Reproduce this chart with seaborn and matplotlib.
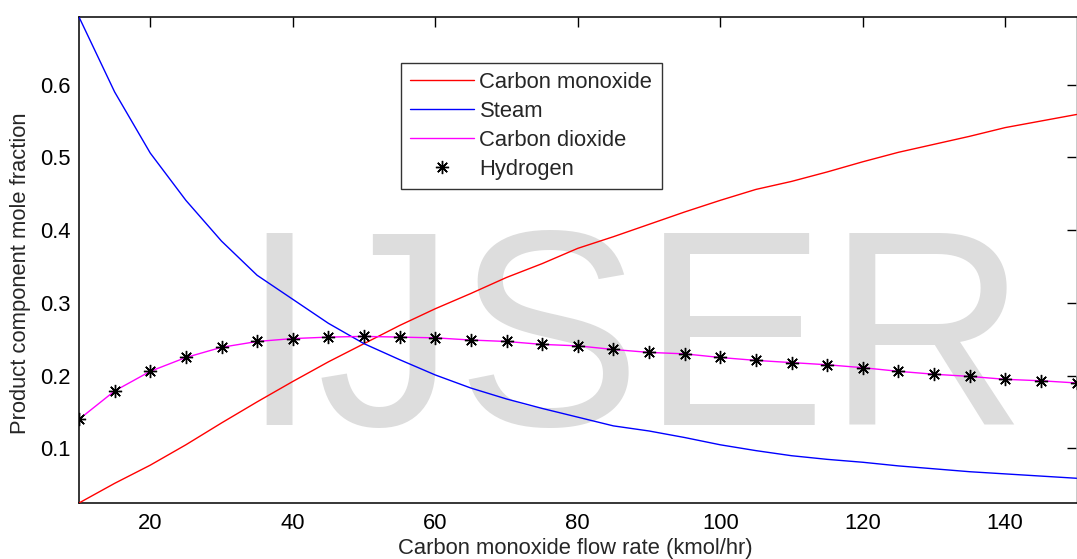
import numpy as np
import pandas as pd
import matplotlib
matplotlib.use("Agg")
import matplotlib.pyplot as plt
import seaborn as sns

flow = [10, 15, 20, 25, 30, 35, 40, 45, 50, 55, 60, 65, 70, 75, 80,
        85, 90, 95, 100, 105, 110, 115, 120, 125, 130, 135, 140, 145, 150]
carbon_monoxide = [0.025, 0.052, 0.077, 0.105, 0.135, 0.164, 0.192, 0.219, 0.244, 0.269,
                   0.292, 0.313, 0.335, 0.354, 0.375, 0.391, 0.408, 0.425, 0.441, 0.456,
                   0.467, 0.480, 0.494, 0.507, 0.518, 0.529, 0.541, 0.550, 0.559]
steam = [0.693, 0.590, 0.506, 0.441, 0.385, 0.338, 0.305, 0.272, 0.244, 0.222,
         0.201, 0.183, 0.168, 0.155, 0.143, 0.131, 0.124, 0.115, 0.105, 0.097,
         0.090, 0.085, 0.081, 0.076, 0.072, 0.068, 0.065, 0.062, 0.059]
carbon_dioxide = [0.140, 0.179, 0.206, 0.225, 0.239, 0.247, 0.251, 0.253, 0.254, 0.253,
                  0.252, 0.249, 0.247, 0.243, 0.241, 0.236, 0.232, 0.230, 0.225, 0.221,
                  0.218, 0.215, 0.211, 0.206, 0.202, 0.199, 0.195, 0.193, 0.190]
hydrogen = list(carbon_dioxide)

series_names = ["Carbon monoxide", "Steam", "Carbon dioxide", "Hydrogen"]
x_ticks = [20, 40, 60, 80, 100, 120, 140]
y_ticks = [0.1, 0.2, 0.3, 0.4, 0.5, 0.6]

df = pd.DataFrame({"flow": flow, "co": carbon_monoxide, "steam": steam,
                   "co2": carbon_dioxide, "h2": hydrogen})

FS = 15.8
sns.set_style("white")
plt.rcParams["font.family"] = ["Liberation Sans", "DejaVu Sans"]
plt.rcParams["font.size"] = FS

fig = plt.figure(figsize=(10.77, 5.59), dpi=100)
W, H = 1077, 559
ax = fig.add_axes([79 / W, 1 - 503 / H, (1076.5 - 79) / W, (503 - 17) / H])

# watermark
ax.text(240 / W, 1 - 425 / H, "IJSER", transform=fig.transFigure, fontsize=200,
        color="#dddddd", ha="left", va="baseline", zorder=0.5,
        family=["Liberation Sans", "DejaVu Sans"])

sns.lineplot(data=df, x="flow", y="co", ax=ax, color="#ff0000", lw=1.0,
             label=series_names[0], zorder=3)
sns.lineplot(data=df, x="flow", y="steam", ax=ax, color="#0000ff", lw=1.0,
             label=series_names[1], zorder=3)
sns.lineplot(data=df, x="flow", y="co2", ax=ax, color="#ff00ff", lw=1.0,
             label=series_names[2], zorder=3)
sns.lineplot(data=df, x="flow", y="h2", ax=ax, color="black", linestyle="none",
             marker=(8, 2, 0), markersize=9.5, markeredgewidth=1.0,
             markeredgecolor="black", label=series_names[3], zorder=4)

ax.set_xlim(10, 150)
ax.set_ylim(0.025, 0.693)
ax.set_xticks(x_ticks)
ax.set_yticks(y_ticks)
ax.set_xticklabels([str(t) for t in x_ticks])
ax.set_yticklabels([f"{t:g}" for t in y_ticks])
ax.tick_params(direction="in", length=7.5, width=1.0, top=True, right=True,
               labelsize=FS, colors="black")
ax.tick_params(axis="x", pad=7.5)
ax.tick_params(axis="y", pad=6)
for s in ax.spines.values():
    s.set_visible(True)
    s.set_color("black")
    s.set_linewidth(1.1)
ax.spines["right"].set_color("#bbbbbb")

ax.set_xlabel("Carbon monoxide flow rate (kmol/hr)", fontsize=FS)
ax.set_ylabel("Product component mole fraction", fontsize=FS)
ax.xaxis.set_label_coords(0.4975, -0.073)
ax.yaxis.set_label_coords(-0.0485, 0.473)

leg = ax.legend(loc="upper left", bbox_to_anchor=(400.7 / W, 1 - 62.7 / H),
                bbox_transform=fig.transFigure, borderaxespad=0, frameon=True,
                fancybox=False, shadow=False, fontsize=FS, handlelength=2.9,
                handletextpad=0.27, labelspacing=0.36, borderpad=0.42)
leg.get_frame().set_edgecolor("black")
leg.get_frame().set_linewidth(1.0)
leg.set_zorder(5)

fig.savefig("out.png", dpi=100)
